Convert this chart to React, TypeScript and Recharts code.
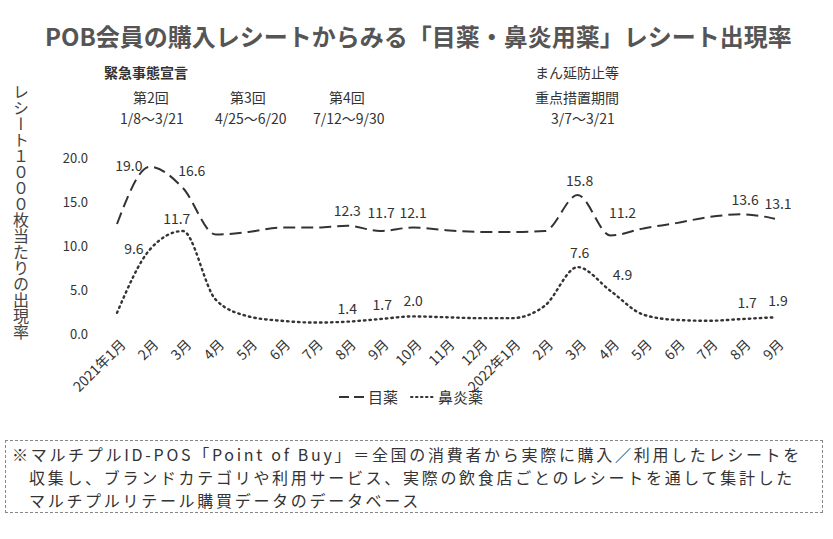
import { LineChart, Line, XAxis, YAxis, LabelList } from 'recharts'

const months = [
  '2021年1月', '2月', '3月', '4月', '5月', '6月', '7月', '8月', '9月', '10月', '11月', '12月',
  '2022年1月', '2月', '3月', '4月', '5月', '6月', '7月', '8月', '9月',
]
const eyeDrops = [12.5, 19.0, 16.6, 11.3, 11.6, 12.1, 12.1, 12.3, 11.7, 12.1, 11.8, 11.6, 11.6, 11.7, 15.8, 11.2, 12.0, 12.6, 13.3, 13.6, 13.1]
const rhinitis = [2.4, 9.6, 11.7, 3.9, 2.0, 1.5, 1.3, 1.4, 1.7, 2.0, 1.9, 1.8, 1.8, 3.2, 7.6, 4.9, 2.2, 1.6, 1.5, 1.7, 1.9]
const eyeLabelIdx = [1, 2, 7, 8, 9, 14, 15, 19, 20]
const rhinLabelIdx = [1, 2, 7, 8, 9, 14, 15, 19, 20]
const yTicks = [0, 5, 10, 15, 20]

const title = 'POB会員の購入レシートからみる「目薬・鼻炎用薬」レシート出現率'
const yLabel = 'レシート１０００枚当たりの出現率'
const footnote = [
  '※マルチプルID-POS「Point of Buy」＝全国の消費者から実際に購入／利用したレシートを',
  '収集し、ブランドカテゴリや利用サービス、実際の飲食店ごとのレシートを通して集計した',
  'マルチプルリテール購買データのデータベース',
]

const data = months.map((m, i) => ({ month: m, eye: eyeDrops[i], rhin: rhinitis[i] }))

const FONT = '"Noto Sans CJK JP", "Noto Sans", sans-serif'
const INK = '#333'

// label offsets per index (dx, dy) relative to point
const eyeOffsets: Record<number, [number, number]> = {
  1: [-21, 4], 2: [9, -12], 7: [0, -10], 8: [1, -13], 9: [0, -10], 14: [2, -9], 15: [12, -17], 19: [3, -9], 20: [3, -10],
}
const rhinOffsets: Record<number, [number, number]> = {
  1: [-16, 4], 2: [-6, -7], 7: [0, -8], 8: [2, -9], 9: [0, -10], 14: [2, -9], 15: [12, -11], 19: [5, -11], 20: [3, -11],
}

function makeLabel(idxs: number[], offsets: Record<number, [number, number]>) {
  return (props: any) => {
    const { x, y, index, value } = props
    if (!idxs.includes(index)) return null
    const [dx, dy] = offsets[index] ?? [0, -10]
    return (
      <text x={x + dx} y={y + dy} textAnchor="middle" fontSize={14} fill={INK} fontFamily={FONT}>
        {Number(value).toFixed(1)}
      </text>
    )
  }
}

function MonthTick(props: any) {
  const { x, y, payload } = props
  return (
    <g transform={`translate(${x + 6},${y + 8})`}>
      <text transform="rotate(-45)" textAnchor="end" fontSize={14} fill={INK} fontFamily={FONT} dy={5}>
        {payload.value}
      </text>
    </g>
  )
}

const ann: React.CSSProperties = { position: 'absolute', fontSize: 14, color: INK, fontFamily: FONT, whiteSpace: 'nowrap' }
const noteLine: React.CSSProperties = { height: 23, lineHeight: '23px' }

export default function App() {
  return (
    <div style={{ position: 'absolute', left: 0, top: 0, width: 833, height: 539, background: '#fff', fontFamily: FONT }}>
      <div style={{ position: 'absolute', left: 45, top: 18, fontSize: 24, fontWeight: 700, color: '#555', whiteSpace: 'nowrap' }}>
        {title}
      </div>

      <div style={{ ...ann, left: 104, top: 62, fontWeight: 700 }}>緊急事態宣言</div>
      <div style={{ ...ann, left: 133, top: 87 }}>第2回</div>
      <div style={{ ...ann, left: 120, top: 108 }}>1/8〜3/21</div>
      <div style={{ ...ann, left: 230, top: 87 }}>第3回</div>
      <div style={{ ...ann, left: 215, top: 108 }}>4/25〜6/20</div>
      <div style={{ ...ann, left: 329, top: 87 }}>第4回</div>
      <div style={{ ...ann, left: 313, top: 108 }}>7/12〜9/30</div>
      <div style={{ ...ann, left: 535, top: 62 }}>まん延防止等</div>
      <div style={{ ...ann, left: 535, top: 87 }}>重点措置期間</div>
      <div style={{ ...ann, left: 551, top: 108 }}>3/7〜3/21</div>

      <div style={{ position: 'absolute', left: 9, top: 84, writingMode: 'vertical-rl', fontSize: 16, color: '#444', letterSpacing: 0 }}>
        {yLabel}
      </div>

      <div style={{ position: 'absolute', left: 0, top: 0 }}>
        <LineChart width={833} height={420} data={data} margin={{ top: 158, right: 58, left: 57, bottom: 6 }}>
          <XAxis
            dataKey="month"
            axisLine={false}
            tickLine={false}
            tickSize={0}
            tickMargin={0}
            interval={0}
            height={80}
            tick={<MonthTick />}
          />
          <YAxis
            domain={[0, 20]}
            ticks={yTicks}
            width={60}
            axisLine={false}
            tickLine={false}
            tickSize={0}
            tickMargin={29}
            tickFormatter={(v: number) => v.toFixed(1)}
            tick={{ fontSize: 13, fill: INK, fontFamily: FONT }}
          />
          <Line
            type="monotone"
            dataKey="eye"
            name="目薬"
            stroke={INK}
            strokeWidth={2}
            strokeDasharray="12 6"
            dot={false}
            isAnimationActive={false}
          >
            <LabelList dataKey="eye" content={makeLabel(eyeLabelIdx, eyeOffsets)} />
          </Line>
          <Line
            type="monotone"
            dataKey="rhin"
            name="鼻炎薬"
            stroke={INK}
            strokeWidth={2.4}
            strokeDasharray="1.5 4"
            strokeLinecap="round"
            dot={false}
            isAnimationActive={false}
          >
            <LabelList dataKey="rhin" content={makeLabel(rhinLabelIdx, rhinOffsets)} />
          </Line>
        </LineChart>
      </div>

      <div style={{ position: 'absolute', left: 338, top: 386, display: 'flex', alignItems: 'center', fontSize: 15, color: INK }}>
        <svg width={28} height={10}><line x1={1} y1={5} x2={27} y2={5} stroke={INK} strokeWidth={2} strokeDasharray="10 5" /></svg>
        <span style={{ marginLeft: 2 }}>目薬</span>
        <svg width={26} height={10} style={{ marginLeft: 12 }}><line x1={1} y1={5} x2={25} y2={5} stroke={INK} strokeWidth={2} strokeDasharray="1.5 3.5" strokeLinecap="round" /></svg>
        <span style={{ marginLeft: 2 }}>鼻炎薬</span>
      </div>

      <div style={{ position: 'absolute', left: 5, top: 440, width: 818, height: 73, border: '1.5px dashed #888', boxSizing: 'border-box', padding: '2px 0 0 6px', fontSize: 16, color: INK, whiteSpace: 'nowrap', letterSpacing: 2.7 }}>
        <div style={noteLine}>{footnote[0]}</div>
        <div style={{ ...noteLine, paddingLeft: 17 }}>{footnote[1]}</div>
        <div style={{ ...noteLine, paddingLeft: 17 }}>{footnote[2]}</div>
      </div>
    </div>
  )
}
